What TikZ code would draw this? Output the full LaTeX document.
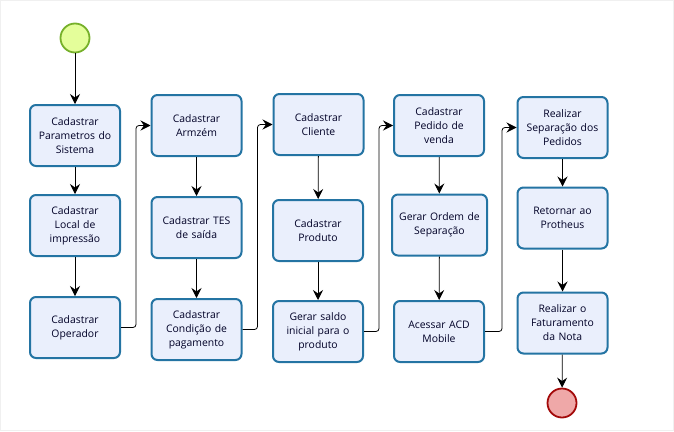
\documentclass[tikz,border=0pt]{standalone}
\usepackage{fontspec}
\setmainfont{Open Sans}
\usetikzlibrary{positioning, arrows.meta, calc}

\definecolor{boxline}{HTML}{2474A3}
\definecolor{boxfill}{HTML}{EAEFFC}
\definecolor{startline}{HTML}{76B02A}
\definecolor{startfill}{HTML}{E4FE9A}
\definecolor{endline}{HTML}{A30A0A}
\definecolor{endfill}{HTML}{EFA8A8}

\begin{document}
\begin{tikzpicture}[x=1pt,y=-1pt,
  every node/.style={align=center,font=\fontsize{10.4}{14}\selectfont,text=black!85!blue},
  task/.style={rectangle,draw=boxline,fill=boxfill,line width=2pt,rounded corners=6pt,
               minimum width=90pt,minimum height=61pt,text width=86pt,inner sep=1pt},
  flow/.style={line width=0.8pt,-{Stealth[length=10pt,width=10pt,inset=3.5pt]}},
  jump/.style={flow,rounded corners=3pt}]
  \useasboundingbox (0,0) rectangle (674,431);
  \draw[black!6] (0.5,0.5) rectangle (673.5,430.5);
%
  \node(inicio)[circle,draw=startline,fill=startfill,line width=1.8pt,minimum size=29pt,inner sep=0pt] at (75,38) {};
%
  \node(param)[task] at (75,135.5) {Cadastrar\\Parametros do\\Sistema};
  \node(local)[task] at (75,225.5) {Cadastrar\\Local de\\impressão};
  \node(oper)[task] at (75,327.5) {Cadastrar\\Operador};
%
  \node(armz)[task] at (196.5,125.5) {Cadastrar\\Armzém};
  \node(tes)[task] at (196.5,227.5) {Cadastrar TES\\de saída};
  \node(cond)[task] at (196.5,329.5) {Cadastrar\\Condição de\\pagamento};
%
  \node(cliente)[task] at (318.5,124.5) {Cadastrar\\Cliente};
  \node(produto)[task] at (318,230.5) {Cadastrar\\Produto};
  \node(saldo)[task] at (318,331.5) {Gerar saldo\\inicial para o\\produto};
%
  \node(pedido)[task] at (439,125.5) {Cadastrar\\Pedido de\\venda};
  \node(ordem)[task,minimum width=95pt] at (439.5,225) {Gerar Ordem de\\Separação};
  \node(acd)[task] at (439,331.5) {Acessar ACD\\Mobile};
%
  \node(separa)[task] at (562.5,127.5) {Realizar\\Separação dos\\Pedidos};
  \node(retorno)[task] at (562.5,218) {Retornar ao\\Protheus};
  \node(fatura)[task] at (562.5,323) {Realizar o\\Faturamento\\da Nota};
%
  \node(fim)[circle,draw=endline,fill=endfill,line width=1.8pt,minimum size=29pt,inner sep=0pt] at (562,403) {};
%
\draw[flow](inicio)--(param);
\draw[flow](param)--(local);
\draw[flow](local)--(oper);
\draw[flow](armz)--(tes);
\draw[flow](tes)--(cond);
\draw[flow](cliente)--(produto);
\draw[flow](produto)--(saldo);
\draw[flow](pedido)--(ordem);
\draw[flow](ordem)--(acd);
\draw[flow](separa)--(retorno);
\draw[flow](retorno)--(fatura);
\draw[flow](fatura)--(fim);
%
\draw[jump](oper.east)--++(15,0)|-(armz.west);
\draw[jump](cond.east)--++(15,0)|-(cliente.west);
\draw[jump](saldo.east)--++(15,0)|-(pedido.west);
\draw[jump](acd.east)--++(17,0)|-(separa.west);
\end{tikzpicture}
\end{document}
